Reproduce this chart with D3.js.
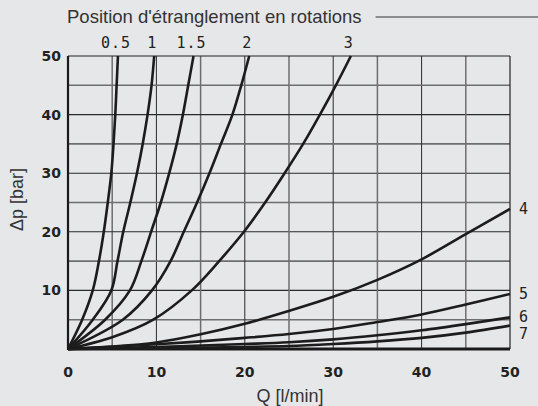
<!DOCTYPE html>
<html>
<head>
<meta charset="utf-8">
<script src="https://cdn.jsdelivr.net/npm/d3@7"></script>
<style>
  body { margin: 0; background: #e6e7e9; }
  svg { display: block; }
</style>
</head>
<body>
<div id="chart"></div>
<script>
// throttle positions (turns) and their curves, Q in l/min, dp in bar
var positions = ["0.5", "1", "1.5", "2", "3", "4", "5", "6", "7"];

var curveQ = [
	[0, 1.6, 2.8, 3.5, 4.05, 4.5, 4.9, 5.15, 5.35, 5.5, 5.65],
	[0, 2.8, 4.9, 5.6, 6.25, 7.05, 7.8, 8.45, 9.0, 9.45, 9.75],
	[0, 4.2, 7.0, 8.3, 9.4, 10.5, 11.45, 12.3, 13.0, 13.6, 14.2],
	[0, 6.2, 9.5, 11.6, 13.1, 14.6, 16.0, 17.3, 18.6, 19.6, 20.5],
	[0, 5, 9.65, 14.0, 17.1, 19.9, 22.3, 24.5, 26.6, 28.5, 30.3, 32.0],
	[0, 5, 10, 15, 20, 25, 30, 35, 40, 45, 50],
	[0, 10, 15, 20, 25, 30, 35, 40, 45, 50],
	[0, 10, 20, 25, 30, 35, 40, 45, 50],
	[0, 10, 20, 25, 30, 35, 40, 45, 50]
];

var curveP = [
	[0, 5, 10, 15, 20, 25, 30, 35, 40, 45, 50],
	[0, 5, 10, 15, 20, 25, 30, 35, 40, 45, 50],
	[0, 5, 10, 15, 20, 25, 30, 35, 40, 45, 50],
	[0, 5, 10, 15, 20, 25, 30, 35, 40, 45, 50],
	[0, 2, 5, 10, 15, 20, 25, 30, 35, 40, 45, 50],
	[0, 0.4, 1.1, 2.5, 4.3, 6.5, 8.9, 11.8, 15.3, 19.6, 23.9],
	[0, 0.8, 1.3, 1.9, 2.56, 3.4, 4.6, 5.9, 7.6, 9.4],
	[0, 0.35, 0.85, 1.15, 1.65, 2.35, 3.2, 4.25, 5.4],
	[0, 0.15, 0.35, 0.5, 0.85, 1.3, 1.9, 2.8, 4.0]
];

var xTicks = [0, 10, 20, 30, 40, 50];
var yTicks = [10, 20, 30, 40, 50];
var gridSteps = [5, 10, 15, 20, 25, 30, 35, 40, 45];

var TITLE = "Position d'étranglement en rotations";
var X_LABEL = "Q [l/min]";
var Y_LABEL = "Δp [bar]";

var W = 538, H = 406;
var margin = {left: 68, top: 56, right: 28, bottom: 57};

var svg = d3.select("#chart").append("svg")
	.attr("width", W)
	.attr("height", H);

svg.append("rect")
	.attr("width", W).attr("height", H)
	.attr("fill", "#e6e7e9");

var x = d3.scaleLinear().domain([0, 50]).range([margin.left, W - margin.right]);
var y = d3.scaleLinear().domain([0, 50]).range([H - margin.bottom, margin.top]);

// grid
var grid = svg.append("g");
gridSteps.forEach(function(v) {
	var odd = (v % 10) != 0;
	grid.append("line")
		.attr("x1", x(v)).attr("x2", x(v))
		.attr("y1", y(0)).attr("y2", y(50))
		.attr("stroke", odd ? "#6e6e6e" : "#2a2a2a")
		.attr("stroke-width", odd ? 1.5 : 1);
	grid.append("line")
		.attr("x1", x(0)).attr("x2", x(50))
		.attr("y1", y(v)).attr("y2", y(v))
		.attr("stroke", odd ? "#6e6e6e" : "#2a2a2a")
		.attr("stroke-width", odd ? 1.6 : 1.1);
});

// frame
grid.append("line").attr("x1", x(0)).attr("x2", x(50)).attr("y1", y(50)).attr("y2", y(50))
	.attr("stroke", "#222").attr("stroke-width", 1.2);
grid.append("line").attr("x1", x(50)).attr("x2", x(50)).attr("y1", y(0)).attr("y2", y(50))
	.attr("stroke", "#222").attr("stroke-width", 1.2);
grid.append("line").attr("x1", x(0)).attr("x2", x(0)).attr("y1", y(0) + 1).attr("y2", y(50))
	.attr("stroke", "#1a1a1a").attr("stroke-width", 2.2);
grid.append("line").attr("x1", x(0)).attr("x2", x(50)).attr("y1", y(0)).attr("y2", y(0))
	.attr("stroke", "#1a1a1a").attr("stroke-width", 3);

// curves
var line = d3.line()
	.x(function(d) { return x(d[0]); })
	.y(function(d) { return y(d[1]); })
	.curve(d3.curveCatmullRom.alpha(0.5));

var series = positions.map(function(name, i) {
	return {name: name, pts: d3.zip(curveQ[i], curveP[i])};
});

svg.append("g").selectAll("path")
	.data(series)
	.enter().append("path")
	.attr("d", function(d) { return line(d.pts); })
	.attr("fill", "none")
	.attr("stroke", "#1c1c1c")
	.attr("stroke-width", 2.6)
	.attr("stroke-linejoin", "round");

// position labels: top ones for curves ending at 50 bar, right ones otherwise
var monoFont = "'DejaVu Sans Mono', monospace";
var topSeries = series.filter(function(d) { return d.pts[d.pts.length - 1][1] >= 50; });
var rightSeries = series.filter(function(d) { return d.pts[d.pts.length - 1][1] < 50; });

svg.append("g").selectAll("text")
	.data(topSeries)
	.enter().append("text")
	.attr("x", function(d) { return x(d.pts[d.pts.length - 1][0]) - 2; })
	.attr("y", 48)
	.attr("text-anchor", "middle")
	.attr("font-family", monoFont)
	.attr("font-size", 15)
	.attr("letter-spacing", 1)
	.attr("fill", "#222")
	.text(function(d) { return d.name; });

var lastY = -Infinity;
var rightPos = rightSeries.map(function(d) {
	var yy = Math.max(y(d.pts[d.pts.length - 1][1]), lastY + 17);
	lastY = yy;
	return yy;
});

svg.append("g").selectAll("text")
	.data(rightSeries)
	.enter().append("text")
	.attr("x", x(50) + 9)
	.attr("y", function(d, i) { return rightPos[i] + 5; })
	.attr("font-family", monoFont)
	.attr("font-size", 15)
	.attr("fill", "#222")
	.text(function(d) { return d.name; });

// tick labels
var tickFont = "'DejaVu Sans', sans-serif";
svg.append("g").selectAll("text")
	.data(yTicks)
	.enter().append("text")
	.attr("x", x(0) - 7)
	.attr("y", function(d) { return y(d) + 5; })
	.attr("text-anchor", "end")
	.attr("font-family", tickFont)
	.attr("font-weight", "bold")
	.attr("font-size", 14)
	.attr("fill", "#222")
	.text(function(d) { return d; });

svg.append("g").selectAll("text")
	.data(xTicks)
	.enter().append("text")
	.attr("x", function(d) { return x(d); })
	.attr("y", 377)
	.attr("text-anchor", "middle")
	.attr("font-family", tickFont)
	.attr("font-weight", "bold")
	.attr("font-size", 14)
	.attr("fill", "#222")
	.text(function(d) { return d; });

// titles
var labelFont = "'Liberation Sans', Arial, sans-serif";
svg.append("text")
	.attr("x", x(25) + 1)
	.attr("y", 402)
	.attr("text-anchor", "middle")
	.attr("font-family", labelFont)
	.attr("font-size", 18)
	.attr("fill", "#333")
	.text(X_LABEL);

svg.append("text")
	.attr("transform", "translate(23," + y(25.5) + ") rotate(-90)")
	.attr("text-anchor", "middle")
	.attr("font-family", labelFont)
	.attr("font-size", 18)
	.attr("fill", "#333")
	.text(Y_LABEL);

var title = svg.append("text")
	.attr("x", 67)
	.attr("y", 23)
	.attr("font-family", labelFont)
	.attr("font-size", 18.5)
	.attr("fill", "#333")
	.text(TITLE);

var tw = title.node().getComputedTextLength();
svg.append("line")
	.attr("x1", 67 + tw + 14).attr("x2", W)
	.attr("y1", 17).attr("y2", 17)
	.attr("stroke", "#333")
	.attr("stroke-width", 1);
</script>
</body>
</html>
